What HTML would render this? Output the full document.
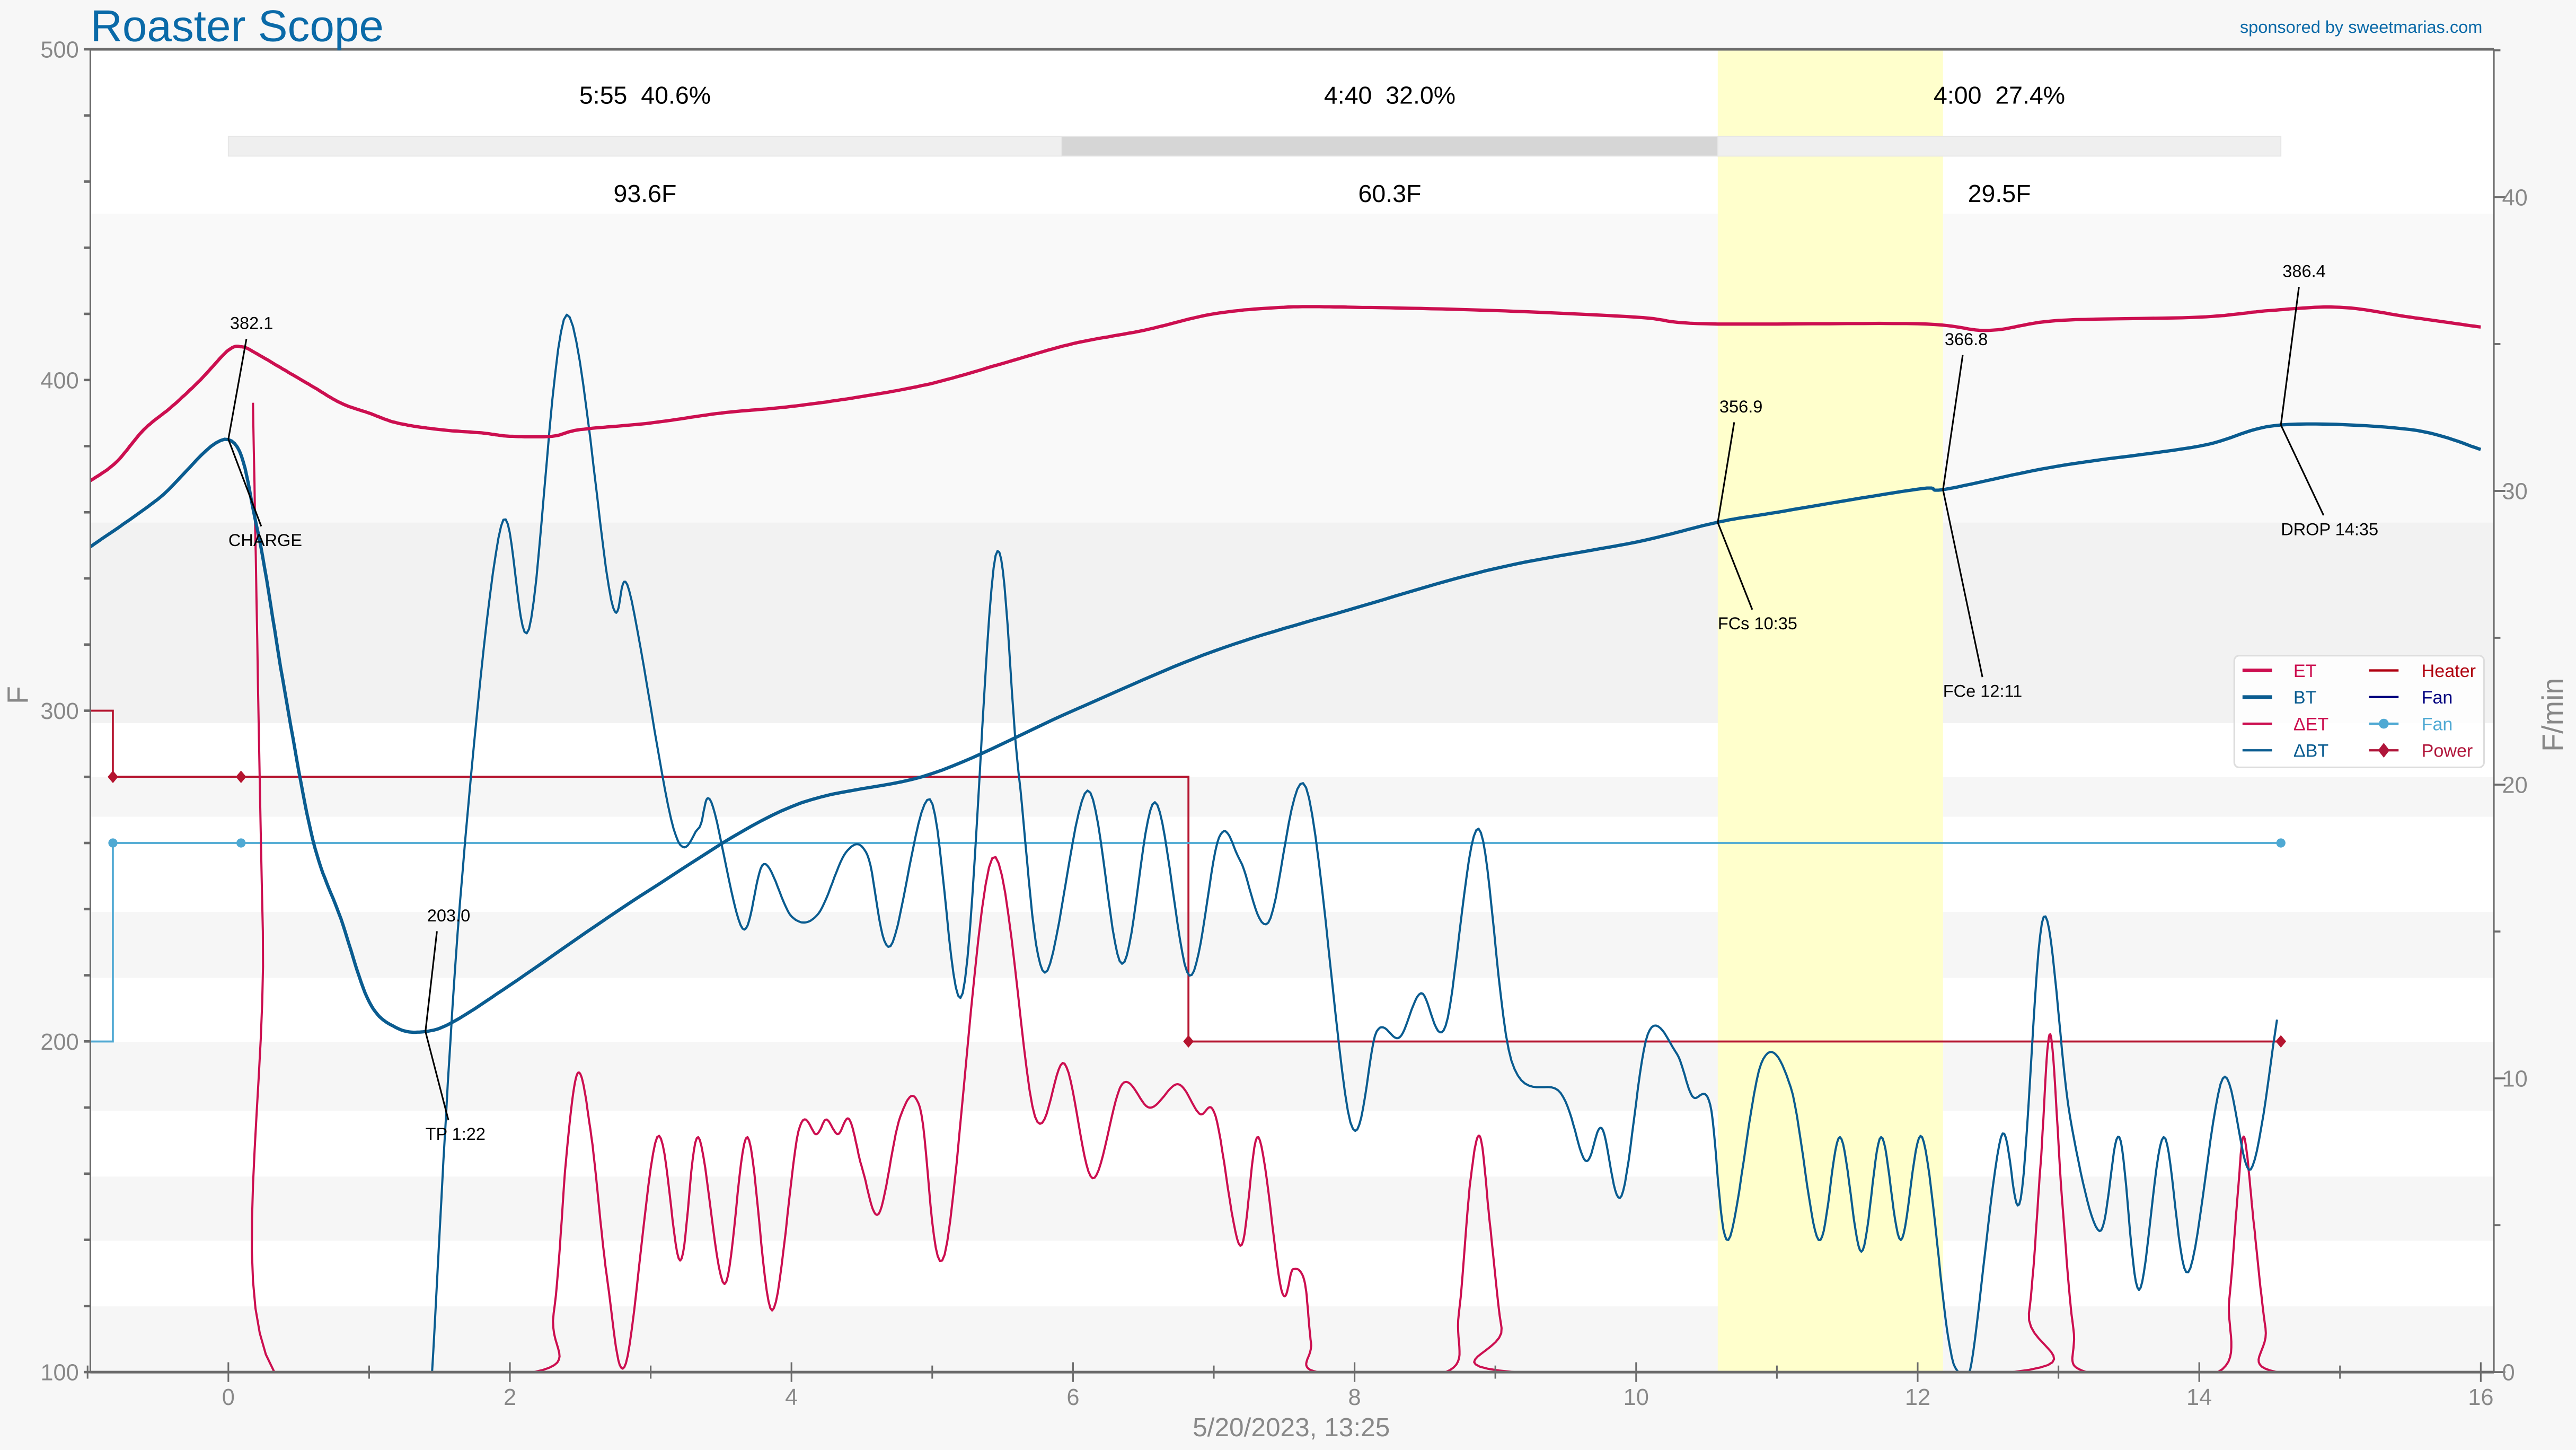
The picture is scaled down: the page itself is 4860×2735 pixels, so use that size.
<!DOCTYPE html>
<html><head><meta charset="utf-8"><style>
html,body{margin:0;padding:0;background:#f7f7f7;}
svg{display:block;font-family:"Liberation Sans",sans-serif;}
</style></head><body>
<svg id="chart" width="4860" height="2735" viewBox="0 0 1568 882.4" preserveAspectRatio="none" xmlns="http://www.w3.org/2000/svg">
<rect x="0" y="0" width="1568" height="882.4" fill="#f7f7f7"/>
<g id="bg"></g>
<g id="marks"></g>
<g id="axes"></g>
<text x="55" y="25" font-size="27" fill="#0a6aa8">Roaster Scope</text>
<text x="1511" y="20" font-size="10.5" fill="#0a6aa8" text-anchor="end">sponsored by sweetmarias.com</text>
<text x="786" y="874" font-size="16" fill="#888" text-anchor="middle">5/20/2023, 13:25</text>
<text transform="translate(17,423) rotate(-90)" font-size="18" fill="#888" text-anchor="middle">F</text>
<text transform="translate(1560,435) rotate(-90)" font-size="18" fill="#888" text-anchor="middle">F/min</text>
</svg>
<script>
// ---- data ----
const etT=[-1,-0.8,-0.6,-0.4,-0.2,0,0.1,0.2,0.4,0.6,0.8,1.0,1.2,1.5,1.8,2.0,2.3,2.5,3.0,3.5,4.0,4.5,5.0,5.5,6.0,6.5,7.0,7.5,8,9,10,10.5,12,12.5,13,14,14.5,15,15.5,16];
const etV=[369,375,385,392,400,409,410,408,403,398,393,390,387,385,384,383,383,385,387,390,392,395,399,405,411,415,420,422,422,421,419,417,417,415,418,419,421,422,419,416];
const btT=[-1,-0.5,0,0.2,0.4,0.6,0.8,1.0,1.2,1.4,1.6,2,3,4,5,6,7,8,9,10,10.58,11,12,12.2,13,14,14.58,15.5,16];
const btV=[349,364,382,356,306,261,237,212,204,203,206,217,246,271,281,300,318,331,343,351,357,360,367,367,374,380,386.4,385,379];
const detX=[154,160,167,325,337,345,352,360,370,381,400,414,425,441,455,470,486,497,503,510,517,525,535,548,560,575,604,630,648,665,683,700,717,730,740,755,766,780,787,794,798,802,880,888,895,901,907,914,922,1225,1235,1242,1248,1255,1262,1270,1350,1357,1362,1366,1372,1379,1386,1510];
const detV=[33,15,0,0,2,7.5,10.2,8,3,0.3,8,3.8,8,3,8,2.1,8.2,8.1,8.6,8.1,8.6,6.9,5.4,8.7,9,4,17.5,8.7,10.5,6.6,9.8,9,9.8,8.8,8.7,4.3,8,2.8,3.5,3.1,1,0,0,2,6.5,8,5,1.5,0,0,2,7,11.5,6,1.5,0,0,2.5,6,8,5,1.5,0,0];
const dbtX=[263,280,305,322,345,372,383,410,425,433,452,465,482,498,515,528,542,566,586,606,620,636,662,683,703,724,742,755,772,795,822,838,852,865,880,900,920,950,965,975,987,1003,1020,1030,1041,1052,1072,1090,1107,1120,1133,1145,1157,1170,1185,1192,1200,1218,1230,1244,1260,1278,1290,1302,1317,1332,1353,1370,1386];
const dbtV=[0,16,28.8,25.3,36,26.3,26.6,18.5,18.5,19.4,15.1,17.3,15.5,15.6,17.7,17.6,14.5,19.5,12.9,27.8,20.4,13.6,19.8,13.9,19.4,13.5,18.2,17.4,15.3,19.9,8.5,11.6,11.4,12.9,11.8,18.5,10.6,9.5,7.2,8.3,6,11.5,10.9,9.4,9.1,4.5,10.5,9.7,4.5,8,4.1,8,4.5,8,1.5,0,0.3,8,5.9,15.5,8.7,4.8,8,2.8,8,3.4,10,6.9,12];
const heaterT=[-1,-0.82,-0.82,6.82,6.82,14.58];
const heaterV=[300,300,280,280,200,200];
const powerT=[-0.82,0.09,6.82,14.58];
const powerV=[280,280,200,200];
const fanT=[-1,-0.82,-0.82,0.09,14.58];
const fanV=[200,200,260,260,260];
const xTicks=[0,2,4,6,8,10,12,14,16];
const yTicks=[100,200,300,400,500];
const y2Ticks=[0,10,20,30,40];
const events=[{t:0,v:382.1,lab:"382.1",ev:"CHARGE",dx1:11,dy1:-61,dx2:20,dy2:53},{t:1.4,v:203.0,lab:"203.0",ev:"TP 1:22",dx1:7,dy1:-61,dx2:14,dy2:54},{t:10.58,v:356.9,lab:"356.9",ev:"FCs 10:35",dx1:10,dy1:-61,dx2:21,dy2:53},{t:12.18,v:366.8,lab:"366.8",ev:"FCe 12:11",dx1:12,dy1:-82,dx2:24,dy2:114},{t:14.58,v:386.4,lab:"386.4",ev:"DROP 14:35",dx1:11,dy1:-84,dx2:26,dy2:55}];
const phaseLabels=["5:55\u00a0\u00a040.6%","4:40\u00a0\u00a032.0%","4:00\u00a0\u00a027.4%"];
const phaseDeltas=["93.6F","60.3F","29.5F"];
const phaseBounds=[0,5.92,10.58,14.58];
// ---- scales ----
const L=55,R=1518,T=30,B=835;
const xs=t=>139+t*85.69;
const ys=v=>835-(v-100)*2.0125;
const y2s=v=>835-v*17.875;
const NS="http://www.w3.org/2000/svg";
function mk(tag,attrs,parent){const e=document.createElementNS(NS,tag);for(const k in attrs)e.setAttribute(k,attrs[k]);parent.appendChild(e);return e;}
const bg=document.getElementById('bg'),marks=document.getElementById('marks'),axes=document.getElementById('axes');
mk('rect',{x:L,y:T,width:R-L,height:B-T,fill:'#ffffff'},bg);
[[130,318,'#f9f9f9'],[318,440,'#f2f2f2'],[473,497,'#f6f6f6'],[555,595,'#f6f6f6'],[634,676,'#f6f6f6'],[716,755,'#f6f6f6'],[795,835,'#f6f6f6']].forEach(b=>{
  const r=mk('rect',{x:L,y:b[0],width:R-L,height:b[1]-b[0],fill:b[2]},bg);
  
  
});
const yb=mk('rect',{x:xs(10.58),y:T,width:xs(12.18)-xs(10.58),height:B-T,fill:'#ffffcc'},bg);


const phaseFill=['#efefef','#d6d6d6','#efefef'];
for(let i=0;i<3;i++){
  const x0=xs(phaseBounds[i]),x1=xs(phaseBounds[i+1]);
  const r=mk('rect',{x:x0,y:83,width:x1-x0,height:12,fill:phaseFill[i],stroke:'#e6e6e6','stroke-width':0.6},marks);
  
  
  const cx=i==2?1217:(x0+x1)/2;
  const t1=mk('text',{x:cx,y:63,'font-size':15,'text-anchor':'middle',fill:'#000'},marks);t1.textContent=phaseLabels[i];
  
  
  const t2=mk('text',{x:cx,y:123,'font-size':15,'text-anchor':'middle',fill:'#000'},marks);t2.textContent=phaseDeltas[i];
  
  
}
function lin(pts){return pts.map((p,i)=>(i?'L':'M')+p[0].toFixed(1)+','+p[1].toFixed(1)).join('');}
function smooth(pts){const out=[pts[0]];for(let i=0;i<pts.length-1;i++){const p0=pts[i-1]||pts[i],p1=pts[i],p2=pts[i+1],p3=pts[i+2]||p2;
 const c1=[p1[0]+(p2[0]-p0[0])/6,p1[1]+(p2[1]-p0[1])/6],c2=[p2[0]-(p3[0]-p1[0])/6,p2[1]-(p3[1]-p1[1])/6];
 for(let k=1;k<=14;k++){const s=k/14,u=1-s;
  const x=u*u*u*p1[0]+3*u*u*s*c1[0]+3*u*s*s*c2[0]+s*s*s*p2[0];
  const y=u*u*u*p1[1]+3*u*u*s*c1[1]+3*u*s*s*c2[1]+s*s*s*p2[1];
  out.push([x,Math.min(B,y)]);}}
 return lin(out);}
mk('clipPath',{id:'clip'},marks);
mk('rect',{x:L,y:T,width:R-L,height:B-T},document.getElementById('clip'));
const heater=mk('path',{d:lin(heaterT.map((t,i)=>[xs(t),ys(heaterV[i])])),fill:'none',stroke:'#b5142f','stroke-width':1.2,'clip-path':'url(#clip)'},marks);


const fan=mk('path',{d:lin(fanT.map((t,i)=>[xs(t),ys(fanV[i])])),fill:'none',stroke:'#4fa9d3','stroke-width':1.2},marks);


fanT.slice(2).forEach((t,i)=>{const c=mk('circle',{cx:xs(t),cy:ys(fanV[i+2]),r:2.8,fill:'#4fa9d3'},marks);

});
powerT.forEach((t,i)=>{const x=xs(t),y=ys(powerV[i]);const d=mk('path',{d:`M${x},${y-3.8}L${x+3.2},${y}L${x},${y+3.8}L${x-3.2},${y}Z`,fill:'#b5142f'},marks);

});
const det=mk('path',{d:smooth(detX.map((x,i)=>[x,y2s(detV[i])])),fill:'none',stroke:'#cc0f50','stroke-width':1.3,'stroke-linejoin':'round','clip-path':'url(#clip)'},marks);


const dbt=mk('path',{d:smooth(dbtX.map((x,i)=>[x,y2s(dbtV[i])])),fill:'none',stroke:'#0a5c90','stroke-width':1.3,'stroke-linejoin':'round','clip-path':'url(#clip)'},marks);


const et=mk('path',{d:smooth(etT.map((t,i)=>[xs(t),ys(etV[i])])),fill:'none',stroke:'#cc0f50','stroke-width':2,'clip-path':'url(#clip)'},marks);


const bt=mk('path',{d:smooth(btT.map((t,i)=>[xs(t),ys(btV[i])])),fill:'none',stroke:'#0a5c90','stroke-width':2,'clip-path':'url(#clip)'},marks);


events.forEach(e=>{const x=xs(e.t),y=ys(e.v);
 const l1=mk('line',{x1:x,y1:y,x2:x+e.dx1,y2:y+e.dy1,stroke:'#000','stroke-width':1},marks);
 
 
 const l2=mk('line',{x1:x,y1:y,x2:x+e.dx2,y2:y+e.dy2,stroke:'#000','stroke-width':1},marks);
 
 
 const a=mk('text',{x:x+1,y:y+e.dy1-6,'font-size':10.5,fill:'#000'},marks);a.textContent=e.lab;
 
 
 const b=mk('text',{x:x,y:y+e.dy2+12,'font-size':10.5,fill:'#000'},marks);b.textContent=e.ev;
 
 
});
const ac='#6b6b6b';
mk('line',{x1:L,y1:T,x2:R,y2:T,stroke:ac,'stroke-width':1.6},axes);
mk('line',{x1:L,y1:B,x2:R,y2:B,stroke:ac,'stroke-width':1.6},axes);
mk('line',{x1:L,y1:T,x2:L,y2:B,stroke:ac,'stroke-width':1},axes);
mk('line',{x1:R,y1:T,x2:R,y2:B,stroke:ac,'stroke-width':1},axes);
for(let v=100;v<=500;v+=20){mk('line',{x1:L-4,y1:ys(v),x2:L,y2:ys(v),stroke:ac,'stroke-width':1.5},axes);}
yTicks.forEach(v=>{const t=mk('text',{x:L-7,y:ys(v)+5,'font-size':14,fill:'#888','text-anchor':'end'},axes);t.textContent=v;

});
for(let v=0;v<=45;v+=5){mk('line',{x1:R,y1:y2s(v),x2:R+(v%10?4:7),y2:y2s(v),stroke:ac,'stroke-width':1.2},axes);}
y2Ticks.forEach(v=>{const t=mk('text',{x:R+5,y:y2s(v)+5,'font-size':14,fill:'#888'},axes);t.textContent=v;

});
for(let t=-1;t<=16;t++){mk('line',{x1:xs(t),y1:B-(t%2?4:6),x2:xs(t),y2:B+(t%2?4:6),stroke:ac,'stroke-width':1},axes);}
xTicks.forEach(v=>{const t=mk('text',{x:xs(v),y:B+20,'font-size':14,fill:'#888','text-anchor':'middle'},axes);t.textContent=v;

});
const lg=mk('g',{},axes);


mk('rect',{x:1360,y:399,width:152,height:68,rx:3,fill:'#ffffff','fill-opacity':0.8,stroke:'#dddddd'},lg);
const items=[['ET','#cc0f50',2.2,0,0],['BT','#0a5c90',2.2,0,1],['\u0394ET','#cc0f50',1.4,0,2],['\u0394BT','#0a5c90',1.4,0,3],['Heater','#b00010',1.4,1,0],['Fan','#00007f',1.4,1,1],['Fan','#4fa9d3',1.4,1,2],['Power','#b0153a',1.4,1,3]];
items.forEach((it,i)=>{const x0=it[3]?1442:1365,y=408+it[4]*16.2,tx=it[3]?1474:1396;
 const g=mk('g',{},lg);
 
 
 mk('line',{x1:x0,y1:y,x2:x0+18,y2:y,stroke:it[1],'stroke-width':it[2]},g);
 if(i==6)mk('circle',{cx:x0+9,cy:y,r:3,fill:'#4fa9d3'},g);
 if(i==7)mk('path',{d:`M${x0+9},${y-4.5}L${x0+12.5},${y}L${x0+9},${y+4.5}L${x0+5.5},${y}Z`,fill:'#b0153a'},g);
 const t=mk('text',{x:tx,y:y+4,'font-size':11,fill:it[1]},g);t.textContent=it[0];
});
</script>
</body></html>
